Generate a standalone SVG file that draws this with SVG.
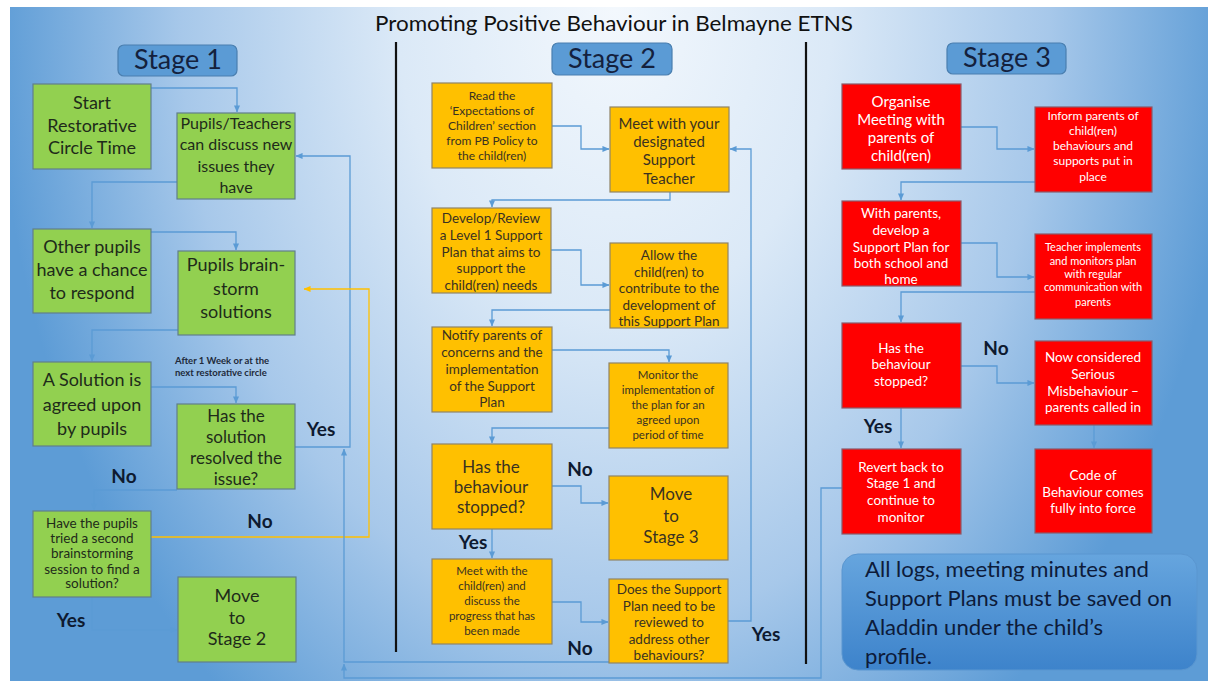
<svg xmlns="http://www.w3.org/2000/svg" width="1208" height="683" viewBox="0 0 1208 683">
  <defs>
    <radialGradient id="slideBg" gradientUnits="userSpaceOnUse" cx="0" cy="0" r="620" gradientTransform="translate(615,10) scale(1,1.42)">
      <stop offset="0" stop-color="#f3f8fd"/>
      <stop offset="0.35" stop-color="#dbe9f7"/>
      <stop offset="0.7" stop-color="#a7c8ea"/>
      <stop offset="1" stop-color="#5d9cd6"/>
    </radialGradient>
    <linearGradient id="noteFill" x1="0" y1="0" x2="0" y2="1">
      <stop offset="0" stop-color="#66a5de"/>
      <stop offset="1" stop-color="#3d83cb"/>
    </linearGradient>
    <marker id="arrow" viewBox="0 0 8 8" refX="7.5" refY="4" markerWidth="7" markerHeight="7" markerUnits="userSpaceOnUse" orient="auto">
      <path d="M0,0.5 L8,4 L0,7.5 z" fill="#5b9bd5"/>
    </marker>
    <marker id="arrowY" viewBox="0 0 8 8" refX="7.5" refY="4" markerWidth="7" markerHeight="7" markerUnits="userSpaceOnUse" orient="auto">
      <path d="M0,0.5 L8,4 L0,7.5 z" fill="#ffc000"/>
    </marker>
  </defs>
  <style>
    text { font-family: Lato, "Liberation Sans", sans-serif; text-anchor: middle; }
    .green { fill: #92d050; stroke: #617f8a; stroke-width: 1.2; }
    .orange { fill: #ffc000; stroke: #8f8466; stroke-width: 1.2; }
    .red { fill: #ff0000; stroke: #8a5a6a; stroke-width: 1.2; }
    .stage { fill: #5b9bd5; stroke: #4a7fb0; stroke-width: 1.2; }
    .stage-t { font-size: 27px; fill: #14213d; }
    .gt { fill: #1e2b1a; }
    .ot { fill: #3a3220; }
    .rt { fill: #ffffff; }
    .lbl { font-size: 19px; font-weight: bold; fill: #0e1a30; }
    .conn { fill: none; stroke: #5b9bd5; stroke-width: 1.3; }
    .conn-y { fill: none; stroke: #ffc000; stroke-width: 1.3; }
    .divider { stroke: #111111; stroke-width: 2.2; }
  </style>

  <!-- slide background -->
  <rect x="0" y="0" width="1208" height="683" fill="#ffffff"/>
  <rect x="10" y="7" width="1198" height="674" fill="url(#slideBg)"/>

  <!-- title and column dividers -->
  <text x="614" y="31" font-size="22" fill="#111111" textLength="478" lengthAdjust="spacingAndGlyphs">Promoting Positive Behaviour in Belmayne ETNS</text>
  <line class="divider" x1="396" y1="42" x2="396" y2="652"/>
  <line class="divider" x1="806" y1="42" x2="806" y2="664"/>

  <!-- stage headers -->
  <g id="stage1-header">
    <rect class="stage" x="118" y="45" width="119" height="31" rx="6"/>
    <text class="stage-t" x="178" y="69">Stage 1</text>
  </g>
  <g id="stage2-header">
    <rect class="stage" x="552" y="43" width="120" height="32" rx="6"/>
    <text class="stage-t" x="612" y="68">Stage 2</text>
  </g>
  <g id="stage3-header">
    <rect class="stage" x="947" y="43" width="119" height="31" rx="6"/>
    <text class="stage-t" x="1007" y="67">Stage 3</text>
  </g>

  <!-- connectors -->
  <g id="connectors">
    <!-- stage 1 -->
    <path class="conn" d="M151,88 H237 V112" marker-end="url(#arrow)"/>
    <path class="conn" d="M177,182 H92 V228" marker-end="url(#arrow)"/>
    <path class="conn" d="M151,232 H236 V250" marker-end="url(#arrow)"/>
    <path class="conn" d="M178,330 H92 V361" marker-end="url(#arrow)"/>
    <path class="conn" d="M151,387 H236 V403" marker-end="url(#arrow)"/>
    <path class="conn" d="M177,490 H94 V510" marker-end="url(#arrow)"/>
    <path class="conn" d="M295,447 H350 V156 H296" marker-end="url(#arrow)"/>
    <path class="conn-y" d="M151,537 H369 V289 H304" marker-end="url(#arrowY)"/>
    <path class="conn" d="M92,597 V630 H177" marker-end="url(#arrow)"/>
    <!-- back to stage 1 -->
    <path class="conn" d="M609,662 H344 V449" marker-end="url(#arrow)"/>
    <path class="conn" d="M842,488 H821 V678 H344 V664" marker-end="url(#arrow)"/>
    <!-- stage 2 -->
    <path class="conn" d="M552,126 H581 V149 H609" marker-end="url(#arrow)"/>
    <path class="conn" d="M670,192 V200 H492 V207" marker-end="url(#arrow)"/>
    <path class="conn" d="M551,250 H581 V285 H609" marker-end="url(#arrow)"/>
    <path class="conn" d="M610,310 H492 V326" marker-end="url(#arrow)"/>
    <path class="conn" d="M552,350 H669 V362" marker-end="url(#arrow)"/>
    <path class="conn" d="M609,428 H492 V443" marker-end="url(#arrow)"/>
    <path class="conn" d="M552,486 H581 V503 H608" marker-end="url(#arrow)"/>
    <path class="conn" d="M492,529 V558" marker-end="url(#arrow)"/>
    <path class="conn" d="M552,602 H581 V622 H608" marker-end="url(#arrow)"/>
    <path class="conn" d="M728,621 H751 V149 H730" marker-end="url(#arrow)"/>
    <!-- stage 3 -->
    <path class="conn" d="M961,127 H997 V149 H1034" marker-end="url(#arrow)"/>
    <path class="conn" d="M1035,182 H901 V200" marker-end="url(#arrow)"/>
    <path class="conn" d="M961,243 H997 V277 H1034" marker-end="url(#arrow)"/>
    <path class="conn" d="M1035,292 H901 V322" marker-end="url(#arrow)"/>
    <path class="conn" d="M961,366 H997 V383 H1034" marker-end="url(#arrow)"/>
    <path class="conn" d="M901,408 V448" marker-end="url(#arrow)"/>
    <path class="conn" d="M1094,425 V448" marker-end="url(#arrow)"/>
  </g>

  <!-- stage 1 nodes -->
  <g id="s1-start">
    <rect class="green" x="33" y="84" width="118" height="85"/>
    <text class="gt" font-size="18"><tspan x="92" y="109">Start</tspan><tspan x="92" y="132">Restorative</tspan><tspan x="92" y="154">Circle Time</tspan></text>
  </g>
  <g id="s1-discuss">
    <rect class="green" x="177" y="113" width="118" height="86"/>
    <text class="gt" font-size="16"><tspan x="236" y="129">Pupils/Teachers</tspan><tspan x="236" y="150">can discuss new</tspan><tspan x="236" y="172">issues they</tspan><tspan x="236" y="193">have</tspan></text>
  </g>
  <g id="s1-respond">
    <rect class="green" x="33" y="229" width="118" height="84"/>
    <text class="gt" font-size="18"><tspan x="92" y="253">Other pupils</tspan><tspan x="92" y="276">have a chance</tspan><tspan x="92" y="299">to respond</tspan></text>
  </g>
  <g id="s1-brainstorm">
    <rect class="green" x="178" y="251" width="117" height="84"/>
    <text class="gt" font-size="18"><tspan x="236" y="271">Pupils brain-</tspan><tspan x="236" y="295">storm</tspan><tspan x="236" y="318">solutions</tspan></text>
  </g>
  <g id="s1-agreed">
    <rect class="green" x="33" y="362" width="118" height="84"/>
    <text class="gt" font-size="18"><tspan x="92" y="386">A Solution is</tspan><tspan x="92" y="411">agreed upon</tspan><tspan x="92" y="435">by pupils</tspan></text>
  </g>
  <g id="s1-note">
    <text font-size="9.5" font-weight="bold" fill="#1e2a3a" style="text-anchor:start"><tspan x="175" y="364">After 1 Week or at the</tspan><tspan x="175" y="376">next restorative circle</tspan></text>
  </g>
  <g id="s1-resolved">
    <rect class="green" x="177" y="404" width="118" height="85"/>
    <text class="gt" font-size="17"><tspan x="236" y="422">Has the</tspan><tspan x="236" y="443">solution</tspan><tspan x="236" y="464">resolved the</tspan><tspan x="236" y="485">issue?</tspan></text>
  </g>
  <g id="s1-second">
    <rect class="green" x="33" y="511" width="118" height="86"/>
    <text class="gt" font-size="13.5"><tspan x="92" y="528">Have the pupils</tspan><tspan x="92" y="543">tried a second</tspan><tspan x="92" y="558">brainstorming</tspan><tspan x="92" y="574">session to find a</tspan><tspan x="92" y="588">solution?</tspan></text>
  </g>
  <g id="s1-move">
    <rect class="green" x="178" y="577" width="118" height="85"/>
    <text class="gt" font-size="18"><tspan x="237" y="602">Move</tspan><tspan x="237" y="624">to</tspan><tspan x="237" y="645">Stage 2</tspan></text>
  </g>

  <!-- stage 2 nodes -->
  <g id="s2-read">
    <rect class="orange" x="432" y="83" width="120" height="85"/>
    <text class="ot" font-size="12"><tspan x="492" y="100">Read the</tspan><tspan x="492" y="115">‘Expectations of</tspan><tspan x="492" y="130">Children’ section</tspan><tspan x="492" y="145">from PB Policy to</tspan><tspan x="492" y="160">the child(ren)</tspan></text>
  </g>
  <g id="s2-meet">
    <rect class="orange" x="610" y="107" width="119" height="85"/>
    <text class="ot" font-size="15"><tspan x="669" y="129">Meet with your</tspan><tspan x="669" y="147">designated</tspan><tspan x="669" y="165">Support</tspan><tspan x="669" y="184">Teacher</tspan></text>
  </g>
  <g id="s2-develop">
    <rect class="orange" x="432" y="208" width="119" height="85"/>
    <text class="ot" font-size="13.5"><tspan x="491" y="223">Develop/Review</tspan><tspan x="491" y="240">a Level 1 Support</tspan><tspan x="491" y="257">Plan that aims to</tspan><tspan x="491" y="273">support the</tspan><tspan x="491" y="290">child(ren) needs</tspan></text>
  </g>
  <g id="s2-allow">
    <rect class="orange" x="610" y="243" width="118" height="85"/>
    <text class="ot" font-size="13.5"><tspan x="669" y="260">Allow the</tspan><tspan x="669" y="277">child(ren) to</tspan><tspan x="669" y="293">contribute to the</tspan><tspan x="669" y="310">development of</tspan><tspan x="669" y="326">this Support Plan</tspan></text>
  </g>
  <g id="s2-notify">
    <rect class="orange" x="432" y="327" width="120" height="85"/>
    <text class="ot" font-size="13.5"><tspan x="492" y="340">Notify parents of</tspan><tspan x="492" y="357">concerns and the</tspan><tspan x="492" y="374">implementation</tspan><tspan x="492" y="391">of the Support</tspan><tspan x="492" y="407">Plan</tspan></text>
  </g>
  <g id="s2-monitor">
    <rect class="orange" x="609" y="363" width="119" height="85"/>
    <text class="ot" font-size="11.5"><tspan x="668" y="379">Monitor the</tspan><tspan x="668" y="394">implementation of</tspan><tspan x="668" y="409">the plan for an</tspan><tspan x="668" y="424">agreed upon</tspan><tspan x="668" y="439">period of time</tspan></text>
  </g>
  <g id="s2-stopped">
    <rect class="orange" x="432" y="444" width="120" height="85"/>
    <text class="ot" font-size="17"><tspan x="491" y="473">Has the</tspan><tspan x="491" y="493">behaviour</tspan><tspan x="491" y="513">stopped?</tspan></text>
  </g>
  <g id="s2-move">
    <rect class="orange" x="609" y="476" width="119" height="84"/>
    <text class="ot" font-size="17"><tspan x="671" y="500">Move</tspan><tspan x="671" y="522">to</tspan><tspan x="671" y="543">Stage 3</tspan></text>
  </g>
  <g id="s2-progress">
    <rect class="orange" x="432" y="559" width="120" height="85"/>
    <text class="ot" font-size="11.5"><tspan x="492" y="575">Meet  with the</tspan><tspan x="492" y="590">child(ren) and</tspan><tspan x="492" y="605">discuss the</tspan><tspan x="492" y="620">progress that has</tspan><tspan x="492" y="635">been made</tspan></text>
  </g>
  <g id="s2-review">
    <rect class="orange" x="609" y="579" width="119" height="84"/>
    <text class="ot" font-size="13.5"><tspan x="669" y="594">Does the Support</tspan><tspan x="669" y="611">Plan need to be</tspan><tspan x="669" y="627">reviewed to</tspan><tspan x="669" y="644">address other</tspan><tspan x="669" y="660">behaviours?</tspan></text>
  </g>

  <!-- stage 3 nodes -->
  <g id="s3-organise">
    <rect class="red" x="842" y="84" width="119" height="85"/>
    <text class="rt" font-size="15"><tspan x="901" y="107">Organise</tspan><tspan x="901" y="125">Meeting with</tspan><tspan x="901" y="143">parents of</tspan><tspan x="901" y="161">child(ren)</tspan></text>
  </g>
  <g id="s3-inform">
    <rect class="red" x="1035" y="107" width="117" height="85"/>
    <text class="rt" font-size="12"><tspan x="1093" y="120">Inform parents of</tspan><tspan x="1093" y="135">child(ren)</tspan><tspan x="1093" y="150">behaviours and</tspan><tspan x="1093" y="165">supports put in</tspan><tspan x="1093" y="181">place</tspan></text>
  </g>
  <g id="s3-plan">
    <rect class="red" x="842" y="201" width="119" height="85"/>
    <text class="rt" font-size="13.5"><tspan x="901" y="218">With parents,</tspan><tspan x="901" y="235">develop a</tspan><tspan x="901" y="252">Support Plan for</tspan><tspan x="901" y="268">both school and</tspan><tspan x="901" y="284">home</tspan></text>
  </g>
  <g id="s3-implement">
    <rect class="red" x="1035" y="234" width="117" height="85"/>
    <text class="rt" font-size="11"><tspan x="1093" y="251">Teacher implements</tspan><tspan x="1093" y="265">and monitors plan</tspan><tspan x="1093" y="278">with regular</tspan><tspan x="1093" y="291">communication with</tspan><tspan x="1093" y="306">parents</tspan></text>
  </g>
  <g id="s3-stopped">
    <rect class="red" x="842" y="323" width="119" height="85"/>
    <text class="rt" font-size="13.5"><tspan x="901" y="353">Has the</tspan><tspan x="901" y="369">behaviour</tspan><tspan x="901" y="386">stopped?</tspan></text>
  </g>
  <g id="s3-serious">
    <rect class="red" x="1035" y="341" width="117" height="84"/>
    <text class="rt" font-size="13.5"><tspan x="1093" y="362">Now considered</tspan><tspan x="1093" y="379">Serious</tspan><tspan x="1093" y="396">Misbehaviour –</tspan><tspan x="1093" y="412">parents called in</tspan></text>
  </g>
  <g id="s3-revert">
    <rect class="red" x="842" y="449" width="119" height="85"/>
    <text class="rt" font-size="13.5"><tspan x="901" y="472">Revert back to</tspan><tspan x="901" y="488">Stage 1 and</tspan><tspan x="901" y="505">continue to</tspan><tspan x="901" y="522">monitor</tspan></text>
  </g>
  <g id="s3-code">
    <rect class="red" x="1035" y="449" width="117" height="84"/>
    <text class="rt" font-size="13.5"><tspan x="1093" y="480">Code of</tspan><tspan x="1093" y="497">Behaviour comes</tspan><tspan x="1093" y="513">fully into force</tspan></text>
  </g>

  <!-- record-keeping note -->
  <g id="note">
    <rect x="842" y="554" width="355" height="116" rx="16" fill="url(#noteFill)" stroke="#5a96d0" stroke-width="1"/>
    <text font-size="22" fill="#0d1b3a" style="text-anchor:start">
      <tspan x="865" y="577" textLength="284" lengthAdjust="spacingAndGlyphs">All logs, meeting minutes and</tspan>
      <tspan x="865" y="606" textLength="307" lengthAdjust="spacingAndGlyphs">Support Plans must be saved on</tspan>
      <tspan x="865" y="635" textLength="238" lengthAdjust="spacingAndGlyphs">Aladdin under the child’s</tspan>
      <tspan x="865" y="664" textLength="67" lengthAdjust="spacingAndGlyphs">profile.</tspan>
    </text>
  </g>

  <!-- branch labels -->
  <g id="labels">
    <text class="lbl" x="321" y="436">Yes</text>
    <text class="lbl" x="124" y="483">No</text>
    <text class="lbl" x="260" y="528">No</text>
    <text class="lbl" x="71" y="627">Yes</text>
    <text class="lbl" x="580" y="476">No</text>
    <text class="lbl" x="473" y="549">Yes</text>
    <text class="lbl" x="580" y="655">No</text>
    <text class="lbl" x="766" y="641">Yes</text>
    <text class="lbl" x="996" y="355">No</text>
    <text class="lbl" x="878" y="433">Yes</text>
  </g>
</svg>
